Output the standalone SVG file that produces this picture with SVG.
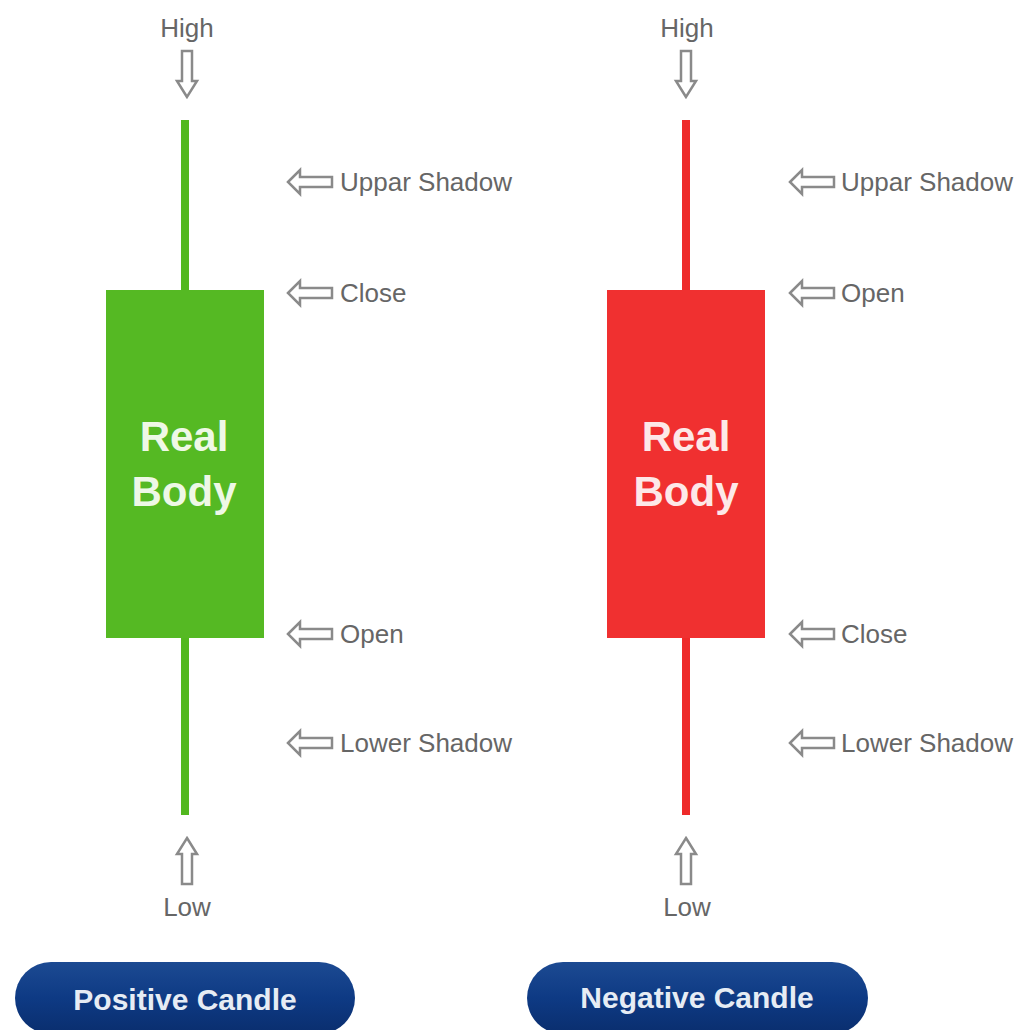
<svg xmlns="http://www.w3.org/2000/svg" width="1023" height="1030" viewBox="0 0 1023 1030">
<defs>
<style>
.lbl{font-family:"Liberation Sans",Arial,sans-serif;font-size:26px;fill:#666}
.body{font-family:"Liberation Sans",Arial,sans-serif;font-size:42px;font-weight:bold;fill:#eef8e6;text-anchor:middle}
.btn{font-family:"Liberation Sans",Arial,sans-serif;font-size:30px;font-weight:bold;fill:#e6ecf4;text-anchor:middle}
.arr{fill:#fff;stroke:#8a8a8a;stroke-width:2.5;stroke-linejoin:miter}
</style>
<linearGradient id="bg" x1="0" y1="0" x2="0" y2="1">
<stop offset="0" stop-color="#1c4a92"/>
<stop offset="0.5" stop-color="#0e3a84"/>
<stop offset="1" stop-color="#0a2e6e"/>
</linearGradient>
<path id="la" d="M0,0 L12,-12 L12,-5 L44,-5 L44,5 L12,5 L12,12 Z"/>
<path id="da" d="M0,0 L-10,-16 L-5,-16 L-5,-46 L5,-46 L5,-16 L10,-16 Z"/>
</defs>
<rect width="1023" height="1030" fill="#fff"/>

<g id="positive">
<rect x="181" y="120" width="8" height="695" fill="#52b81f"/>
<rect x="106" y="290" width="158" height="348" fill="#55b923"/>
<text class="body" x="184" y="451">Real</text>
<text class="body" x="184" y="506">Body</text>
</g>

<g id="negative">
<rect x="682" y="120" width="8" height="695" fill="#ee2a2a"/>
<rect x="607" y="290" width="158" height="348" fill="#f03030"/>
<text class="body" x="686" y="451" style="fill:#fde8e8">Real</text>
<text class="body" x="686" y="506" style="fill:#fde8e8">Body</text>
</g>

<g id="connectors">
<use href="#da" x="187" y="97" class="arr"/>
<use href="#da" x="686" y="97" class="arr"/>
<use href="#da" transform="translate(187,838) rotate(180)" class="arr"/>
<use href="#da" transform="translate(686,838) rotate(180)" class="arr"/>
<use href="#la" x="288" y="182" class="arr"/>
<use href="#la" x="288" y="293" class="arr"/>
<use href="#la" x="288" y="634" class="arr"/>
<use href="#la" x="288" y="743" class="arr"/>
<use href="#la" x="790" y="182" class="arr"/>
<use href="#la" x="790" y="293" class="arr"/>
<use href="#la" x="790" y="634" class="arr"/>
<use href="#la" x="790" y="743" class="arr"/>
</g>

<g id="labels-positive">
<text class="lbl" x="187" y="37" text-anchor="middle">High</text>
<text class="lbl" x="187" y="916" text-anchor="middle">Low</text>
<text class="lbl" x="340" y="191">Uppar Shadow</text>
<text class="lbl" x="340" y="302">Close</text>
<text class="lbl" x="340" y="643">Open</text>
<text class="lbl" x="340" y="752">Lower Shadow</text>
</g>

<g id="labels-negative">
<text class="lbl" x="687" y="37" text-anchor="middle">High</text>
<text class="lbl" x="687" y="916" text-anchor="middle">Low</text>
<text class="lbl" x="841" y="191">Uppar Shadow</text>
<text class="lbl" x="841" y="302">Open</text>
<text class="lbl" x="841" y="643">Close</text>
<text class="lbl" x="841" y="752">Lower Shadow</text>
</g>

<g id="btn-positive">
<rect x="15" y="962" width="340" height="72" rx="36" fill="url(#bg)"/>
<text class="btn" x="185" y="1010">Positive Candle</text>
</g>
<g id="btn-negative">
<rect x="527" y="962" width="341" height="72" rx="36" fill="url(#bg)"/>
<text class="btn" x="697" y="1008">Negative Candle</text>
</g>
</svg>
